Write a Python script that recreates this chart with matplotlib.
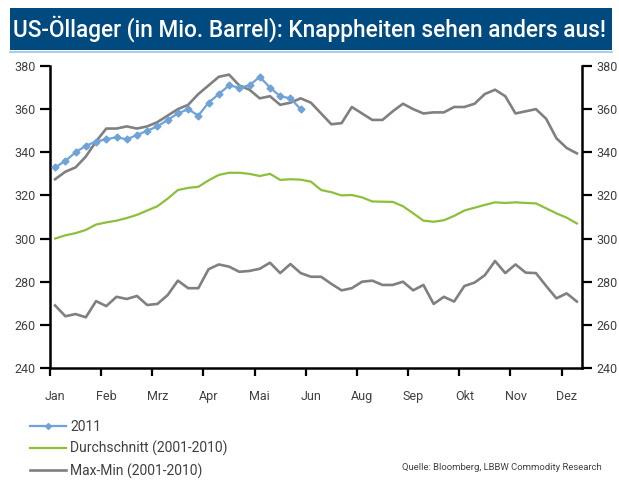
import numpy as np
import matplotlib.pyplot as plt
from matplotlib.patches import Rectangle
from matplotlib.lines import Line2D

# weekly values, million barrel
stock_2011 = [333, 336, 340, 343, 345, 346, 347, 346, 348, 350, 352, 355, 358,
              360, 357, 363, 367, 371, 370, 371, 375, 370, 366, 365, 360]
avg_2001_2010 = [300, 301.5, 302.5, 304, 306.5, 307.5, 308.3, 309.5, 311, 313, 315,
                 318.5, 322.5, 323.5, 324, 327, 329.5, 330.5, 330.5, 330, 329, 330,
                 327.2, 327.5, 327.3, 326.4, 322.5, 321.5, 320, 320.2, 319.1, 317.2,
                 317.1, 317, 315, 311.7, 308.3, 307.8, 308.5, 310.5, 313, 314.3,
                 315.6, 316.8, 316.5, 316.8, 316.5, 316.3, 314, 311.7, 309.7, 307]
max_2001_2010 = [327.5, 331, 333, 338, 345, 351, 351, 352, 351, 352, 354, 357, 360,
                 362, 367, 371, 375, 376, 371, 369, 365, 366, 362, 363, 365, 363,
                 358, 353, 353.5, 361, 358, 355, 355, 359, 362.5, 360, 358, 358.5,
                 358.5, 361, 361, 362.5, 367, 369, 366, 358, 359, 360, 355.5, 346.5,
                 342, 339.5]
min_2001_2010 = [269, 264, 265, 263.5, 271, 268.7, 273, 272, 273.4, 269.2, 269.7,
                 273.8, 280.5, 277, 277, 285.8, 288, 287, 284.6, 285, 286, 288.8,
                 284, 288.2, 284, 282.3, 282.3, 279, 276, 277, 280, 280.5, 278.5,
                 278.5, 280, 276, 278.5, 269.7, 273, 270.8, 278, 279.6, 283, 289.6,
                 284, 288, 284.2, 284, 278, 272.3, 274.6, 270.8]
month_labels = ["Jan", "Feb", "Mrz", "Apr", "Mai", "Jun", "Aug", "Sep", "Okt", "Nov", "Dez"]

BLUE = "#6fa3d8"
GREEN = "#8cbf3a"
GREY = "#808080"
TXT = "#404040"

plt.rcParams['font.family'] = ['Roboto', 'DejaVu Sans']

fig = plt.figure(figsize=(6.19, 4.8), dpi=100)

# title bar
fig.patches.append(Rectangle((10 / 619, 1 - 50 / 480), 602 / 619, 42 / 480,
                             transform=fig.transFigure, facecolor="#004a80",
                             edgecolor="none"))
fig.lines.append(Line2D([10 / 619, 612 / 619], [1 - 51.5 / 480, 1 - 51.5 / 480],
                        transform=fig.transFigure, color="#9cc3e0", lw=1.2))
fig.text(13 / 619, 1 - 29 / 480, "US-Öllager (in Mio. Barrel): Knappheiten sehen anders aus!",
         color="white", fontsize=16.3, fontweight="medium", va="center", ha="left")

ax = fig.add_axes([50 / 619, 1 - 368 / 480, 532 / 619, 302 / 480])
weeks = np.arange(len(avg_2001_2010))
ax.plot(weeks, max_2001_2010, color=GREY, lw=1.9, zorder=2)
ax.plot(weeks, min_2001_2010, color=GREY, lw=1.9, zorder=2)
ax.plot(weeks, avg_2001_2010, color=GREEN, lw=1.6, zorder=3)
ax.plot(np.arange(len(stock_2011)), stock_2011, color=BLUE, lw=1.6, marker="D",
        ms=3.5, mec=BLUE, zorder=4)

ax.set_xlim(-0.5, len(weeks) - 0.5)
ax.set_ylim(240, 380)
ax.set_yticks(np.arange(240, 381, 20))

# ticks on week boundaries, labels at every 5th week
ax.set_xticks(np.arange(-0.5, len(weeks) - 1, 5))
ax.set_xticklabels([])
ax.set_xticks(np.arange(0, len(weeks), 5), minor=True)
ax.set_xticklabels(month_labels, minor=True)
ax.tick_params(axis="x", which="minor", length=0, pad=16, labelsize=9, labelcolor=TXT)
ax.tick_params(axis="x", which="major", length=6, width=1.6, direction="out")

ax.tick_params(axis="y", length=7, width=1.6, direction="out", labelsize=9,
               labelcolor=TXT, left=True, right=True, labelleft=True, labelright=True)

ax.spines["top"].set_visible(False)
for side in ["left", "right", "bottom"]:
    ax.spines[side].set_linewidth(1.8)

handles = [Line2D([], [], color=BLUE, lw=1.6, marker="D", ms=3),
           Line2D([], [], color=GREEN, lw=1.6),
           Line2D([], [], color=GREY, lw=1.9)]
fig.legend(handles, ["2011", "Durchschnitt (2001-2010)", "Max-Min (2001-2010)"],
           loc="upper left", bbox_to_anchor=(30 / 619, 1 - 420 / 480), frameon=False,
           fontsize=10, handlelength=2.6, handletextpad=0.3, labelspacing=0.5,
           labelcolor=TXT, borderaxespad=0, borderpad=0)

fig.text(602 / 619, 1 - 468 / 480, "Quelle: Bloomberg, LBBW Commodity Research",
         fontsize=6.8, color=TXT, ha="right", va="center")

fig.savefig("out.png", dpi=100)
